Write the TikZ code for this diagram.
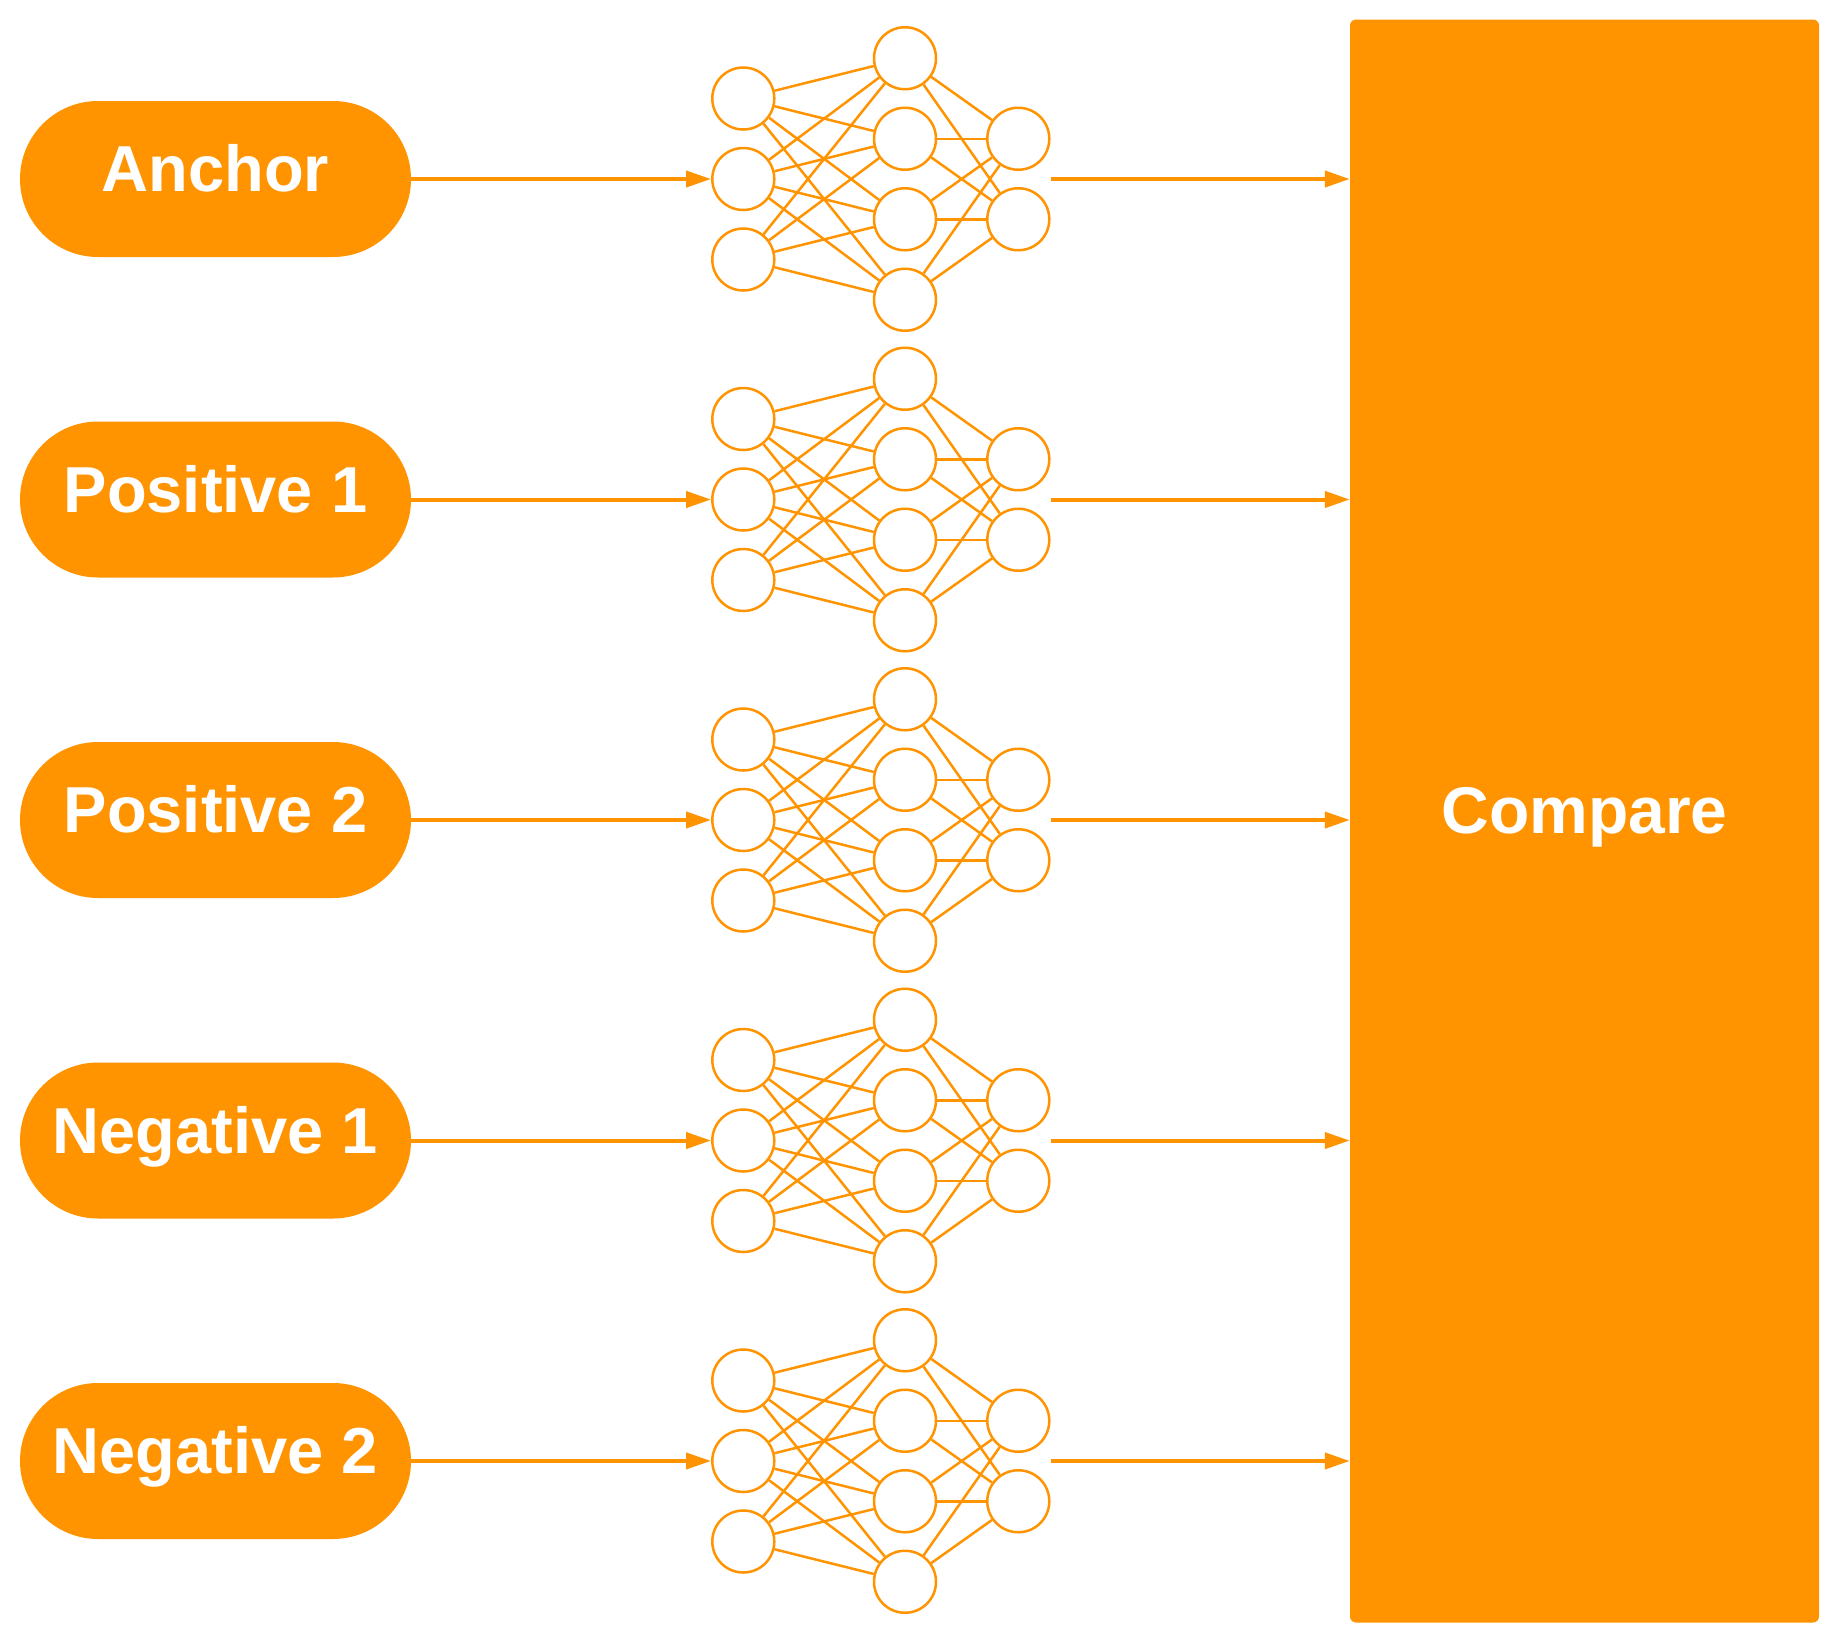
\documentclass[tikz,border=0pt]{standalone}
\usepackage{fontspec}
\setmainfont{Liberation Sans}
\usetikzlibrary{arrows.meta}
\definecolor{org}{RGB}{255,147,0}
\begin{document}
\begin{tikzpicture}[x=1pt,y=-1pt,
  pill/.style={fill=org, rounded corners=78pt, minimum width=391pt, minimum height=156pt,
    text=white, font=\fontsize{65}{78}\selectfont\bfseries, inner sep=0pt,
    text height=47pt, text depth=22pt},
  neuron/.style={circle, draw=org, fill=white, line width=2.5pt, minimum size=62pt, inner sep=0pt},
  wire/.style={draw=org, line width=2.5pt},
  flow/.style={draw=org, line width=4pt, -{Triangle[length=25pt,width=16pt]}},
  cmpbox/.style={fill=org, rounded corners=6pt, minimum width=469pt, minimum height=1603pt,
    text=white, font=\fontsize{66}{78}\selectfont\bfseries, inner sep=0pt,
    text height=47pt, text depth=22pt}]
\useasboundingbox (0,0) rectangle (1840,1641);
\node[cmpbox] (cmp) at (1584.5,821) {Compare};
\foreach \lab [count=\r] in {Anchor, Positive 1, Positive 2, Negative 1, Negative 2} {
  \pgfmathsetmacro{\yy}{179+(\r-1)*320.5}
  \node[pill] (p\r) at (215.5,\yy) {\lab};
  \foreach \k in {1,2,3} {
    \node[neuron] (i\r-\k) at (743.3,{\yy+(\k-2)*80.5}) {};
  }
  \foreach \k in {1,2,3,4} {
    \node[neuron] (h\r-\k) at (905,{\yy+(\k-2.5)*80.5}) {};
  }
  \foreach \k in {1,2} {
    \node[neuron] (u\r-\k) at (1018.3,{\yy+(\k-1.5)*80.5}) {};
  }
  \foreach \a in {1,2,3} {
    \foreach \b in {1,2,3,4} {
      \draw[wire] (i\r-\a) -- (h\r-\b);
    }
  }
  \foreach \a in {1,2,3,4} {
    \foreach \b in {1,2} {
      \draw[wire] (h\r-\a) -- (u\r-\b);
    }
  }
  \draw[flow] (p\r.east) -- (i\r-2.west);
  \coordinate (o\r) at (1051,\yy);
  \draw[flow] (o\r) -- (o\r -| cmp.west);
}
\end{tikzpicture}
\end{document}
